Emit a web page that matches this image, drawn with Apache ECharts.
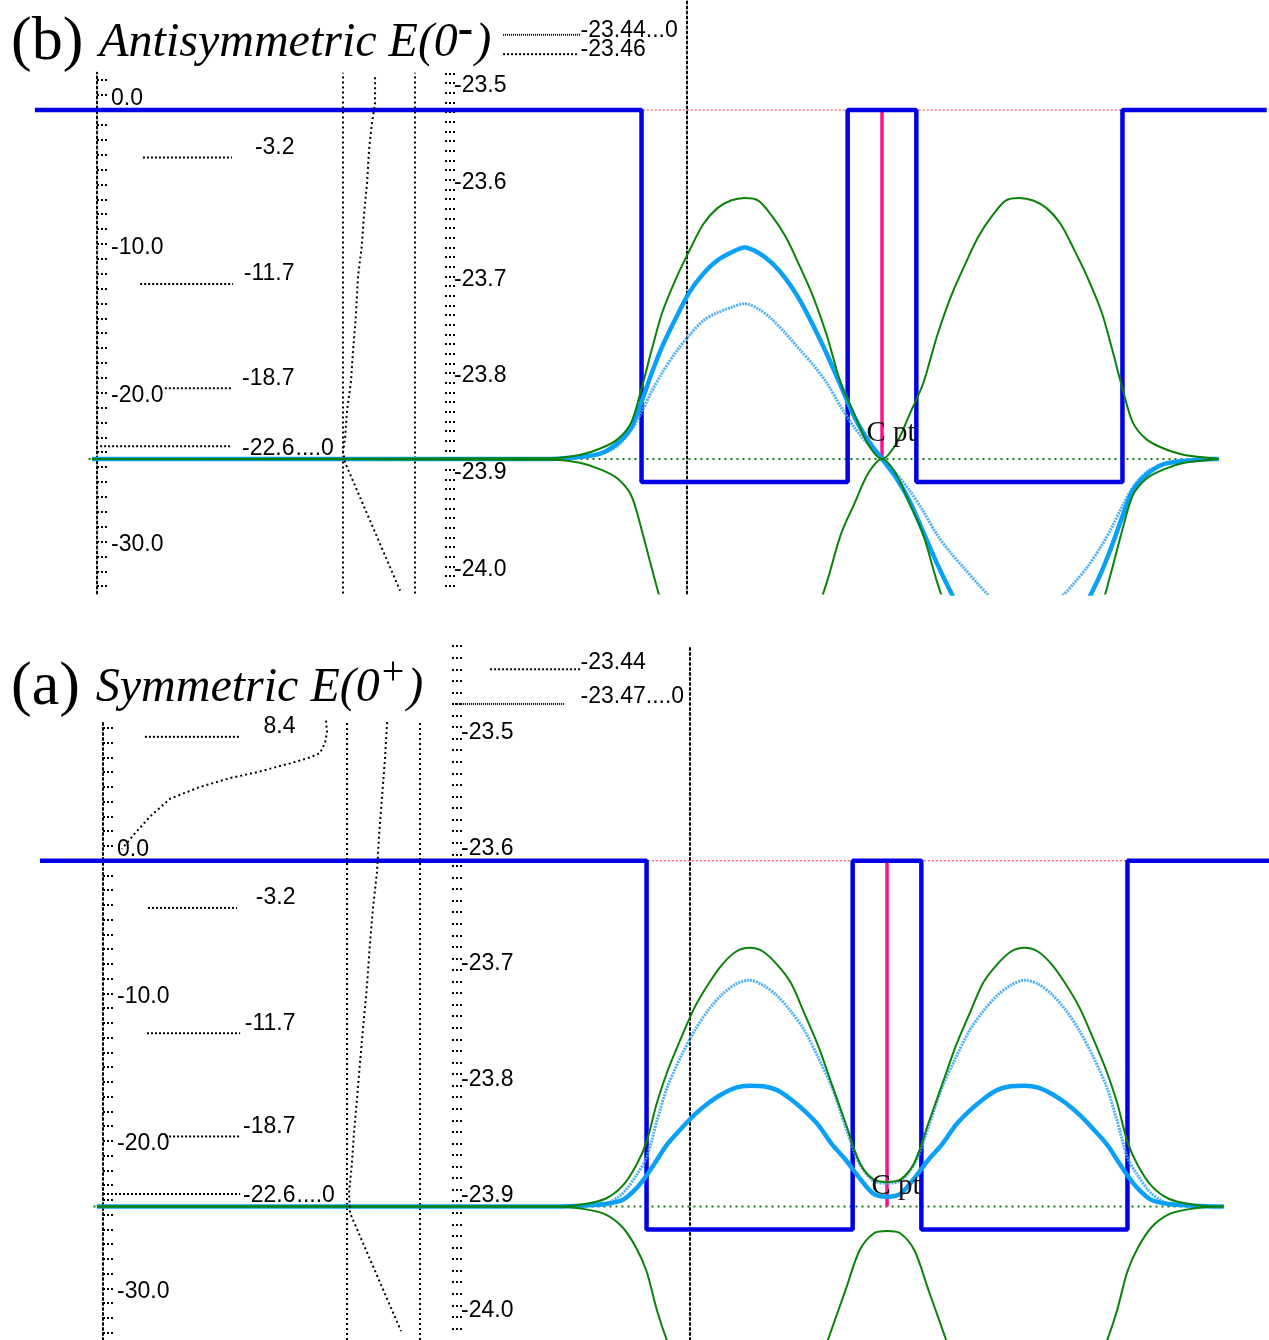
<!DOCTYPE html>
<html>
<head>
<meta charset="utf-8">
<script src="https://cdn.jsdelivr.net/npm/echarts@6/dist/echarts.min.js"></script>
<style>
  html, body { margin: 0; padding: 0; background: #fff; }
  #chart { width: 1269px; height: 1340px; }
</style>
</head>
<body>
<div id="chart"></div>
<script>
// ---------------- data ----------------
// positions along the double well (well units: barrier |x| < 0.5, wells 0.5 < |x| < 3.5)
const xs = [-11.5, -4.8, -4.4, -4.1, -3.85, -3.65, -3.5, -3.35, -3.2, -3.0, -2.8, -2.6, -2.4, -2.2, -2.0, -1.8, -1.6, -1.4, -1.2, -1.0, -0.8, -0.6, -0.4, -0.2,
  0,
  0.2, 0.4, 0.6, 0.8, 1.0, 1.2, 1.4, 1.6, 1.8, 2.0, 2.2, 2.4, 2.6, 2.8, 3.0, 3.2, 3.35, 3.5, 3.65, 3.85, 4.1, 4.4, 4.8, 4.9];

// antisymmetric state E(0-): envelope, amplitude (thick) and second amplitude (thin)
const antiGreen = [0, 0.003, 0.015, 0.04, 0.075, 0.14, 0.27, 0.42, 0.56, 0.69, 0.80, 0.90, 0.96, 0.99, 1.0, 0.99, 0.93, 0.85, 0.74, 0.62, 0.47, 0.29, 0.17, 0.055,
  0,
  0.055, 0.17, 0.29, 0.47, 0.62, 0.74, 0.85, 0.93, 0.99, 1.0, 0.99, 0.96, 0.90, 0.80, 0.69, 0.56, 0.42, 0.27, 0.14, 0.075, 0.04, 0.015, 0.003, 0];
const antiThick = [0, 0, 0.008, 0.02, 0.06, 0.12, 0.22, 0.33, 0.43, 0.54, 0.64, 0.71, 0.76, 0.79, 0.81, 0.79, 0.75, 0.69, 0.61, 0.51, 0.40, 0.28, 0.16, 0.07,
  0,
  -0.07, -0.16, -0.28, -0.40, -0.51, -0.61, -0.69, -0.75, -0.79, -0.81, -0.79, -0.76, -0.71, -0.64, -0.54, -0.43, -0.33, -0.22, -0.12, -0.06, -0.02, -0.008, 0, 0];
const antiThin = [0, 0, 0.005, 0.02, 0.05, 0.11, 0.18, 0.26, 0.33, 0.41, 0.475, 0.53, 0.56, 0.58, 0.595, 0.575, 0.535, 0.48, 0.42, 0.36, 0.29, 0.20, 0.12, 0.055,
  0,
  -0.055, -0.12, -0.20, -0.29, -0.36, -0.42, -0.48, -0.535, -0.575, -0.595, -0.58, -0.56, -0.53, -0.475, -0.41, -0.33, -0.26, -0.18, -0.11, -0.05, -0.02, -0.005, 0, 0];

// symmetric state E(0+)
const symGreen = [0, 0, 0.01, 0.03, 0.08, 0.16, 0.25, 0.40, 0.52, 0.65, 0.77, 0.86, 0.935, 0.985, 1.0, 0.985, 0.935, 0.865, 0.745, 0.62, 0.47, 0.32, 0.17, 0.105,
  0.095,
  0.105, 0.17, 0.32, 0.47, 0.62, 0.745, 0.865, 0.935, 0.985, 1.0, 0.985, 0.935, 0.86, 0.77, 0.65, 0.52, 0.40, 0.25, 0.16, 0.08, 0.03, 0.01, 0, 0];
const symThin = [0, 0, 0.003, 0.01, 0.05, 0.12, 0.19, 0.33, 0.46, 0.58, 0.68, 0.76, 0.82, 0.86, 0.875, 0.855, 0.815, 0.755, 0.68, 0.575, 0.46, 0.305, 0.165, 0.10,
  0.09,
  0.10, 0.165, 0.305, 0.46, 0.575, 0.68, 0.755, 0.815, 0.855, 0.875, 0.86, 0.82, 0.76, 0.68, 0.58, 0.46, 0.33, 0.19, 0.12, 0.05, 0.01, 0.003, 0, 0];
const symThick = [0, 0, 0.004, 0.01, 0.025, 0.07, 0.12, 0.18, 0.24, 0.30, 0.355, 0.40, 0.435, 0.46, 0.467, 0.465, 0.45, 0.415, 0.37, 0.315, 0.24, 0.18, 0.11, 0.05,
  0.038,
  0.05, 0.11, 0.18, 0.24, 0.315, 0.37, 0.415, 0.45, 0.465, 0.467, 0.46, 0.435, 0.40, 0.355, 0.30, 0.24, 0.18, 0.12, 0.07, 0.025, 0.01, 0.004, 0, 0];

// square double-well potential (step points)
const potX = [-12.33, -3.5, -0.5, 0.5, 3.5, 5.6];
const potV = [0, -25, 0, -25, 0, 0];
const refX = [-11.4, 5.6];          // V = 0 reference
const baseX = [-11.55, 4.9];        // psi = 0 baseline
const levelE = -23.45;              // energy of the doublet

// energy-level diagram (left) and its matching function
const levelsB = [-3.2, -11.7, -18.7, -22.6];
const rootB = -22.6;
const levelsA = [8.4, -3.2, -11.7, -18.7, -22.6];
const rootA = -22.6;
const matchB = [[79.9, 2.2], [79.9, 0.5], [79.0, -0.9], [78.2, -2.6], [77.6, -4.9], [76.7, -7.1], [76.1, -9.1], [75.0, -11.2], [74.4, -13.8],
  [73.6, -16.1], [73.0, -18.2], [71.8, -20.3], [71.3, -22.0], [70.7, -23.0], [71.3, -23.7], [87.1, -32.3]];
const matchA = [[81.4, 9.4], [80.8, 6.9], [79.9, 4.2], [79.1, 1.7], [78.5, -0.8], [77.4, -3.1], [76.5, -5.6], [75.6, -8.6], [74.5, -11.4],
  [73.6, -13.8], [72.8, -16.1], [71.9, -18.5], [71.3, -20.6], [70.5, -22.5], [70.8, -23.9], [85.4, -31.9]];
const matchA2 = [[63.9, 9.5], [64.2, 8.7], [63.6, 8.0], [62.2, 7.3], [59.3, 7.0], [53.6, 6.6], [44.1, 6.0], [36.4, 5.6], [27.8, 5.0],
  [19.2, 4.2], [13.5, 3.0], [8.6, 1.7], [5.4, 0.8]];

// fine energy scale (zoomed)
const zoomLevelsB = [-23.44, -23.46];
const zoomRootB = -23.44;
const zoomLevelsA = [-23.44, -23.47];
const zoomRootA = -23.47;

// tick labels
const energyTicks = [0, -10, -20, -30];
const zoomTicks = [-23.5, -23.6, -23.7, -23.8, -23.9, -24.0];

// ---------------- layout ----------------
const SANS = "'Liberation Sans', Arial, sans-serif";
const SERIF = "'Liberation Serif', 'Times New Roman', serif";
const PSI_SCALE = 17.54;   // energy units per unit of psi on screen
const BLACK_DOT = { color: '#000', width: 2, type: [2, 3] };
const LABEL_BASE = { show: true, color: '#000', opacity: 1, fontFamily: SANS, fontSize: 23, fontWeight: 'normal' };

const panelB = {
  top: 72.8, height: 520.8, eMin: -32.5, eMax: 2.5, xMin: -12.838, xMax: 5.633,
  diagLeft: 97, diagWidth: 348, zoomLeft: 445, zoomWidth: 242, zoomTop: 0, zoomHeight: 593.6,
  zMin: -24.018, zMax: -23.404, zTickFrom: -23.48, zLabelLH: 14, zLabelDy: -4, cptDy: -6,
  green: antiGreen, thick: antiThick, thin: antiThin,
  levels: levelsB, root: rootB, levStart: [13.2, 12.4, 19.5, 0.9], levEnd: [38.8, 39.1, 38.8, 38.8], levLabelX: 56.9,
  curves: [matchB], vlines: [70.7, 91.4],
  zLevels: zoomLevelsB, zRoot: zoomRootB, zStart: [24, 24], zEnd: [55.8, 54.5], zLabelX: 55.8, zStyles: [[1, 1], [2, 2]], zZero: '...0'
};
const panelA = {
  top: 720.6, height: 625, eMin: -32.5, eMax: 9.5, xMin: -12.911, xMax: 5.560,
  diagLeft: 103, diagWidth: 349, zoomLeft: 452, zoomWidth: 238, zoomTop: 645, zoomHeight: 700.6,
  zMin: -24.020, zMax: -23.419, zTickFrom: -23.42, zLabelLH: 12, zLabelDy: -7, cptDy: 0,
  green: symGreen, thick: symThick, thin: symThin,
  levels: levelsA, root: rootA, levStart: [12.0, 12.9, 12.6, 17.8, 0], levEnd: [39.3, 38.4, 39.3, 39.3, 39.3], levLabelX: 55.3,
  curves: [matchA, matchA2], vlines: [69.9, 90.8],
  zLevels: zoomLevelsA, zRoot: zoomRootA, zStart: [16, 1.3], zEnd: [53.8, 47.5], zLabelX: 53.8, zStyles: [[2, 2], [1, 1]], zZero: '....0'
};

const grid = [], xAxis = [], yAxis = [], series = [];

function textMarks(xi, yi, items, label, extra) {
  return Object.assign({
    type: 'scatter', xAxisIndex: xi, yAxisIndex: yi, symbolSize: 1, silent: true,
    itemStyle: { color: 'rgba(0,0,0,0)', opacity: 1 }, z: 20, data: items,
    label: Object.assign({}, LABEL_BASE, label || {})
  }, extra || {});
}

function buildPanel(P) {
  const g = grid.length, yb = yAxis.length;
  grid.push({ left: 0, top: P.top, width: 1269, height: P.height });
  grid.push({ left: P.diagLeft, top: P.top, width: P.diagWidth, height: P.height });
  grid.push({ left: P.zoomLeft, top: P.zoomTop, width: P.zoomWidth, height: P.zoomHeight });
  xAxis.push({ gridIndex: g, type: 'value', min: P.xMin, max: P.xMax, show: false });
  xAxis.push({ gridIndex: g + 1, type: 'value', min: 0, max: 100, show: false });
  xAxis.push({ gridIndex: g + 2, type: 'value', min: 0, max: 100, show: false });

  const eTicks = [];
  for (let v = Math.floor(P.eMax); v >= Math.ceil(P.eMin); v--) eTicks.push(v);
  const zTickVals = [];
  for (let v = Math.round(P.zTickFrom * 100); v >= -2401; v--) zTickVals.push(v / 100);

  yAxis.push({ gridIndex: g, type: 'value', min: P.eMin, max: P.eMax, show: false });
  yAxis.push({ gridIndex: g, type: 'value', position: 'right',
    min: (P.eMin - levelE) / PSI_SCALE, max: (P.eMax - levelE) / PSI_SCALE, show: false });
  yAxis.push({ gridIndex: g + 1, type: 'value', position: 'left', min: P.eMin, max: P.eMax,
    splitLine: { show: false },
    axisLine: { show: true, lineStyle: BLACK_DOT },
    axisTick: { show: true, inside: true, length: 12, customValues: eTicks, lineStyle: { color: '#000', width: 2, type: [2, 2] } },
    axisLabel: { show: true, inside: true, margin: 14, customValues: energyTicks, verticalAlign: 'bottom',
      color: '#000', fontFamily: SANS, fontSize: 23, formatter: v => v.toFixed(1) } });
  yAxis.push({ gridIndex: g + 2, type: 'value', position: 'left', min: P.zMin, max: P.zMax,
    splitLine: { show: false },
    axisLine: { show: false },
    axisTick: { show: true, inside: true, length: 12, customValues: zTickVals, lineStyle: { color: '#000', width: 2, type: [2, 2] } },
    axisLabel: { show: true, inside: true, margin: 9, customValues: zoomTicks, verticalAlign: 'bottom', lineHeight: P.zLabelLH,
      color: '#000', fontFamily: SANS, fontSize: 23, formatter: v => v.toFixed(1) } });
  yAxis.push({ gridIndex: g + 2, type: 'value', position: 'right', min: P.zMin, max: P.zMax,
    splitLine: { show: false }, axisTick: { show: false }, axisLabel: { show: false },
    axisLine: { show: true, lineStyle: BLACK_DOT } });

  const X0 = g, X1 = g + 1, X2 = g + 2;
  const Ye = yb, Yp = yb + 1, Yd = yb + 2, Yz = yb + 3;
  const line = (xi, yi, data, style, extra) => Object.assign({
    type: 'line', xAxisIndex: xi, yAxisIndex: yi, data, showSymbol: false, symbol: 'none',
    silent: true, lineStyle: style, animation: false
  }, extra || {});

  // wave panel
  series.push(line(X0, Yp, baseX.map(x => [x, 0]), { color: '#157a15', width: 2, type: [2, 4] }, { z: 1 }));
  series.push(line(X0, Ye, refX.map(x => [x, 0]), { color: '#ff3030', width: 1, type: [2, 2] }, { z: 2 }));
  series.push(line(X0, Ye, [[0, 0], [0, levelE]], { color: '#ff1090', width: 3.5 }, { z: 3 }));
  series.push(textMarks(X0, Ye, [{ value: [0, levelE], label: { formatter: 'C pt' } }],
    { position: 'top', offset: [9, P.cptDy], color: '#111', fontFamily: SERIF, fontSize: 29 }));
  series.push(line(X0, Ye, potX.map((x, i) => [x, potV[i]]), { color: '#0000e6', width: 4.5 }, { step: 'end', z: 4 }));
  series.push(line(X0, Yp, xs.map((x, i) => [x, P.thin[i]]), { color: '#3ea8f2', width: 3, type: [2, 1], opacity: 0.9 }, { smooth: 0.3, z: 5 }));
  series.push(line(X0, Yp, xs.map((x, i) => [x, P.thick[i]]), { color: '#0aa0f8', width: 4.5 }, { smooth: 0.3, z: 6 }));
  series.push(line(X0, Yp, xs.map((x, i) => [x, P.green[i]]), { color: '#0a820a', width: 2 }, { smooth: 0.3, z: 7 }));
  series.push(line(X0, Yp, xs.map((x, i) => [x, -P.green[i]]), { color: '#0a820a', width: 2 }, { smooth: 0.3, z: 7 }));

  // energy-level diagram
  P.curves.forEach((c, k) => {
    const s = line(X1, Yd, c, { color: '#000', width: 2, type: [2, 3] }, { z: 8 });
    if (k === 0) {
      s.markLine = { silent: true, symbol: ['none', 'none'], label: { show: false },
        lineStyle: BLACK_DOT, data: P.vlines.map(v => ({ xAxis: v })) };
    }
    series.push(s);
  });
  P.levels.forEach((lv, i) => {
    series.push(line(X1, Yd, [[P.levStart[i], lv], [P.levEnd[i], lv]], { color: '#000', width: 2, type: [2, 2] }, { z: 8 }));
  });
  const levItems = P.levels.map(lv => ({
    value: [P.levLabelX, lv],
    label: { position: 'left', distance: 0, offset: [0, lv === P.root ? 2 : -10], formatter: lv.toFixed(1) }
  }));
  levItems.push({ value: [P.levLabelX, P.root], label: { position: 'right', distance: 0, offset: [0, 2], formatter: '....0' } });
  series.push(textMarks(X1, Yd, levItems));

  // fine energy scale
  P.zLevels.forEach((lv, i) => {
    series.push(line(X2, Yz, [[P.zStart[i], lv], [P.zEnd[i], lv]], { color: '#000', width: 2, type: P.zStyles[i] }, { z: 8, clip: false }));
  });
  series.push(textMarks(X2, Yz, P.zLevels.map(lv => ({
    value: [P.zLabelX, lv],
    label: { formatter: lv.toFixed(2) + (lv === P.zRoot ? P.zZero : '') }
  })), { position: 'right', distance: 0, offset: [0, P.zLabelDy] }, { clip: false }));
}

buildPanel(panelB);
buildPanel(panelA);

const titleRich = {
  p: { fontFamily: SERIF, fontSize: 62, fontWeight: 'normal', color: '#000', lineHeight: 70, padding: [0, 16, 0, 0] },
  t: { fontFamily: SERIF, fontSize: 48, fontWeight: 'normal', fontStyle: 'italic', color: '#000', lineHeight: 70 },
  s: { fontFamily: SERIF, fontSize: 46, fontWeight: 'bold', color: '#000', lineHeight: 40, verticalAlign: 'top', padding: [0, 2, 0, 0] },
  q: { fontFamily: SERIF, fontSize: 40, fontWeight: 'normal', color: '#000', lineHeight: 46, verticalAlign: 'top', padding: [0, 3, 0, 2] }
};

const chart = echarts.init(document.getElementById('chart'));
chart.setOption({
  animation: false,
  backgroundColor: '#fff',
  title: [
    { left: 6, top: 3, text: '{p|(b)}{t|Antisymmetric E(0}{s|-}{t|)}', textStyle: { fontWeight: 'normal', rich: titleRich } },
    { left: 6, top: 648, text: '{p|(a)}{t|Symmetric E(0}{q|+}{t|)}', textStyle: { fontWeight: 'normal', rich: titleRich } }
  ],
  grid, xAxis, yAxis, series
});
</script>
</body>
</html>
